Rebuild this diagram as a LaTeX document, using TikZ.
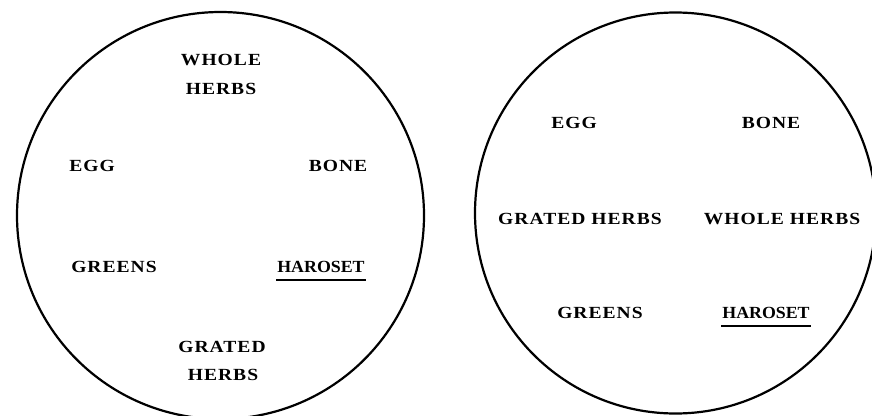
\documentclass[tikz,border=0pt]{standalone}
\usepackage{fontspec}
\setmainfont{Liberation Serif}
\newfontfamily\spacedfont[LetterSpace=6,FakeStretch=1.15]{Liberation Serif Bold}
\newfontfamily\tightfont[FakeStretch=1.05]{Liberation Serif Bold}
\begin{document}
\begin{tikzpicture}[x=1pt,y=-1pt,
  plate/.style={line width=2.2pt},
  lbl/.style={font=\spacedfont\fontsize{17}{19}\selectfont, inner sep=1pt, anchor=center},
  hlbl/.style={font=\tightfont\fontsize{17}{19}\selectfont, inner sep=1pt, anchor=center},
  uline/.style={line width=1.4pt}]
\useasboundingbox (0,0) rectangle (872,415);
\clip (0,0) rectangle (872,415);
% left plate
\draw[plate] (220.5,215.5) circle (203.5);
\node[lbl] (lwhole) at (221,60) {WHOLE};
\node[lbl] (lherbs1) at (221,89) {HERBS};
\node[lbl] (legg) at (92,166) {EGG};
\node[lbl] (lbone) at (338,166) {BONE};
\node[lbl] (lgreens) at (114,267) {GREENS};
\node[hlbl] (lhar) at (321,267) {HAROSET};
\node[lbl] (lgrated) at (222,347) {GRATED};
\node[lbl] (lherbs2) at (223,375) {HERBS};
\draw[uline] ([yshift=-7.5pt]lhar.base west) -- ([yshift=-7.5pt]lhar.base east);
% right plate
\draw[plate] (675.5,213) circle (200.5);
\node[lbl] (regg) at (574,123) {EGG};
\node[lbl] (rbone) at (771,123) {BONE};
\node[lbl] (rgrated) at (580,219) {GRATED HERBS};
\node[lbl] (rwhole) at (782,219) {WHOLE HERBS};
\node[lbl] (rgreens) at (600,313) {GREENS};
\node[hlbl] (rhar) at (766,313) {HAROSET};
\draw[uline] ([yshift=-7.5pt]rhar.base west) -- ([yshift=-7.5pt]rhar.base east);
\end{tikzpicture}
\end{document}
